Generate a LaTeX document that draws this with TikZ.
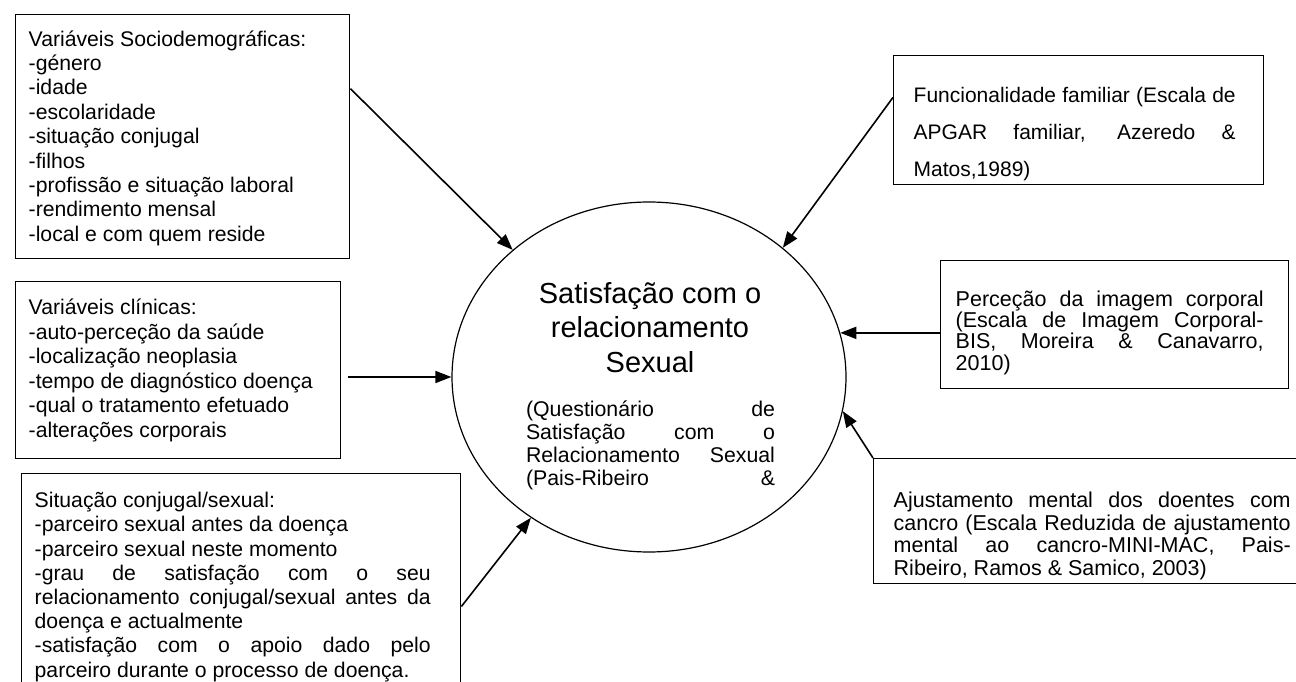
\documentclass[tikz,border=0pt]{standalone}
\usepackage{fontspec}
\setmainfont{Liberation Sans}
\usetikzlibrary{arrows.meta,shapes.geometric}

\newcommand{\leftfont}{\fontsize{21.2pt}{24.4pt}\selectfont}
\newcommand{\boxtext}[3]{\parbox[t]{#1}{#2\lineskiplimit=-100pt\lineskip=0pt\parindent=0pt\hyphenpenalty=10000\relax #3}}

\begin{document}
\begin{tikzpicture}[x=1pt,y=1pt,
  factor/.style={draw, line width=1.4pt, anchor=north west, inner ysep=0pt},
  link/.style={-{Triangle[length=16pt,width=12pt]}, line width=1.6pt},
]

\useasboundingbox (0,0) rectangle (1296,-682);
\clip (0,0) rectangle (1296,-682);
\fill[white] (0,0) rectangle (1296,-682);

% Sociodemograficas
\node[factor, inner xsep=13pt, text height=31.5pt, text depth=212.5pt] (soc) at (15,-14)
  {\boxtext{308pt}{\leftfont}{Variáveis Sociodemográficas:\\
  -género\\
  -idade\\
  -escolaridade\\
  -situação conjugal\\
  -filhos\\
  -profissão e situação laboral\\
  -rendimento mensal\\
  -local e com quem reside}};

% clinicas
\node[factor, inner xsep=13pt, text height=33pt, text depth=144pt] (cli) at (15,-281)
  {\boxtext{299pt}{\fontsize{21.2pt}{24.5pt}\selectfont}{Variáveis clínicas:\\
  -auto-perceção da saúde\\
  -localização neoplasia\\
  -tempo de diagnóstico doença\\
  -qual o tratamento efetuado\\
  -alterações corporais}};

% conjugal/sexual
\node[factor, inner xsep=13pt, text height=34pt, text depth=193pt] (con) at (21,-473)
  {\boxtext{413pt}{\fontsize{21.2pt}{24.2pt}\selectfont\rightskip=17pt}{Situação conjugal/sexual:\\
  -parceiro sexual antes da doença\\
  -parceiro sexual neste momento\\
  -grau de satisfação com o seu\linebreak
  relacionamento conjugal/sexual antes da\linebreak
  doença e actualmente\\
  -satisfação com o apoio dado pelo\linebreak
  parceiro durante o processo de doença.}};

% APGAR
\node[factor, inner xsep=20pt, text height=46.5pt, text depth=82.5pt] (fam) at (893,-55)
  {\boxtext{330pt}{\fontsize{21pt}{37pt}\selectfont\rightskip=8pt}{Funcionalidade familiar (Escala de\linebreak
  APGAR familiar, Azeredo \&\linebreak
  Matos,1989)}};

% imagem corporal
\node[factor, inner xsep=15pt, text height=45.5pt, text depth=82.5pt] (img) at (940,-260)
  {\boxtext{318pt}{\fontsize{21.5pt}{21.3pt}\selectfont\rightskip=10pt}{Perceção da imagem corporal\linebreak
  (Escala de Imagem Corporal-\linebreak
  BIS, Moreira \& Canavarro,\linebreak
  2010)}};

% MINI-MAC
\node[factor, inner xsep=20pt, text height=49pt, text depth=76pt] (mac) at (873,-458)
  {\boxtext{397pt}{\fontsize{21.5pt}{22.5pt}\selectfont}{Ajustamento mental dos doentes com\linebreak
  cancro (Escala Reduzida de ajustamento\linebreak
  mental ao cancro-MINI-MAC, Pais-\linebreak
  Ribeiro, Ramos \& Samico, 2003)}};

% centro
\node[draw, ellipse, line width=1.2pt, minimum width=394pt, minimum height=350pt, inner sep=0pt] (sat) at (649,-377) {};
\node[anchor=north, inner sep=0pt, text height=25pt] (title) at (650,-278)
  {\parbox[t]{300pt}{\centering\fontsize{29pt}{34.5pt}\selectfont Satisfação com o\\ relacionamento\\ Sexual}};
\node[anchor=north, inner sep=0pt, text height=20pt] (ref) at (650.5,-396)
  {\boxtext{249pt}{\fontsize{21.3pt}{23.1pt}\selectfont}{(Questionário de\linebreak
  Satisfação com o\linebreak
  Relacionamento Sexual\linebreak
  (Pais-Ribeiro\hfill\&}};

\draw[link] (soc.16) -- (sat.137);
\draw[link] (fam.173) -- (sat.44);
\draw[link, shorten <=7pt] (cli.east |- sat.west) -- (sat.west);
\draw[link] (img.west |- sat.13) -- (sat.13);
\draw[link] (mac.north west) -- (sat.-10);
\draw[link] (con.-5) -- (sat.230);

\end{tikzpicture}
\end{document}
